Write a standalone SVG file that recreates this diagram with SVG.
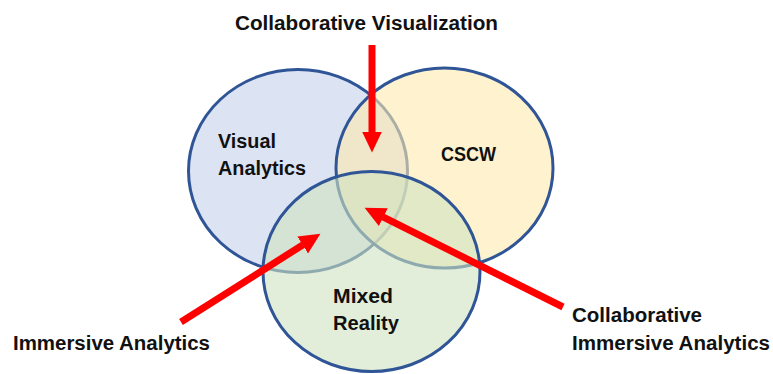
<svg xmlns="http://www.w3.org/2000/svg" width="773" height="374" viewBox="0 0 773 374">
<style>
.c{stroke:#2F5597;stroke-width:3}
.t{font-family:"Liberation Sans",Arial,sans-serif;font-weight:bold;font-size:20px;fill:#111}
.a{stroke:#FF0000;stroke-width:7;fill:none}
</style>
<defs>
<marker id="h" markerUnits="userSpaceOnUse" markerWidth="22" markerHeight="22" viewBox="0 0 22 22" refX="0.5" refY="11" orient="auto">
<path d="M0,1 L21,11 L0,21 Z" fill="#FF0000"/>
</marker>
</defs>
<rect width="773" height="374" fill="#FFFFFF"/>
<g id="visual-analytics">
<ellipse class="c" cx="298" cy="171" rx="109.5" ry="101.5" fill="#C5D2EB" fill-opacity="0.6"/>
</g>
<g id="cscw">
<ellipse class="c" cx="444.5" cy="168" rx="108.5" ry="100" fill="#FDE9AF" fill-opacity="0.6"/>
</g>
<g id="mixed-reality">
<ellipse class="c" cx="371.5" cy="271.5" rx="108.5" ry="100" fill="#CFE3C0" fill-opacity="0.6"/>
</g>
<g id="labels-in">
<text class="t" x="218" y="148" textLength="58" lengthAdjust="spacingAndGlyphs">Visual</text>
<text class="t" x="218" y="175" textLength="88" lengthAdjust="spacingAndGlyphs">Analytics</text>
<text class="t" x="441" y="161" textLength="55" lengthAdjust="spacingAndGlyphs">CSCW</text>
<text class="t" x="333" y="303" textLength="60" lengthAdjust="spacingAndGlyphs">Mixed</text>
<text class="t" x="333" y="330" textLength="66" lengthAdjust="spacingAndGlyphs">Reality</text>
</g>
<g id="connectors">
<line class="a" x1="372" y1="45" x2="372" y2="132" marker-end="url(#h)"/>
<line class="a" x1="181" y1="322" x2="303.1" y2="244.7" marker-end="url(#h)"/>
<line class="a" x1="563" y1="307" x2="382.9" y2="216.9" marker-end="url(#h)"/>
</g>
<g id="labels-out">
<text class="t" x="235" y="30" textLength="263" lengthAdjust="spacingAndGlyphs">Collaborative Visualization</text>
<text class="t" x="13" y="350" textLength="197" lengthAdjust="spacingAndGlyphs">Immersive Analytics</text>
<text class="t" x="572" y="322" textLength="130" lengthAdjust="spacingAndGlyphs">Collaborative</text>
<text class="t" x="572" y="350" textLength="198" lengthAdjust="spacingAndGlyphs">Immersive Analytics</text>
</g>
</svg>
